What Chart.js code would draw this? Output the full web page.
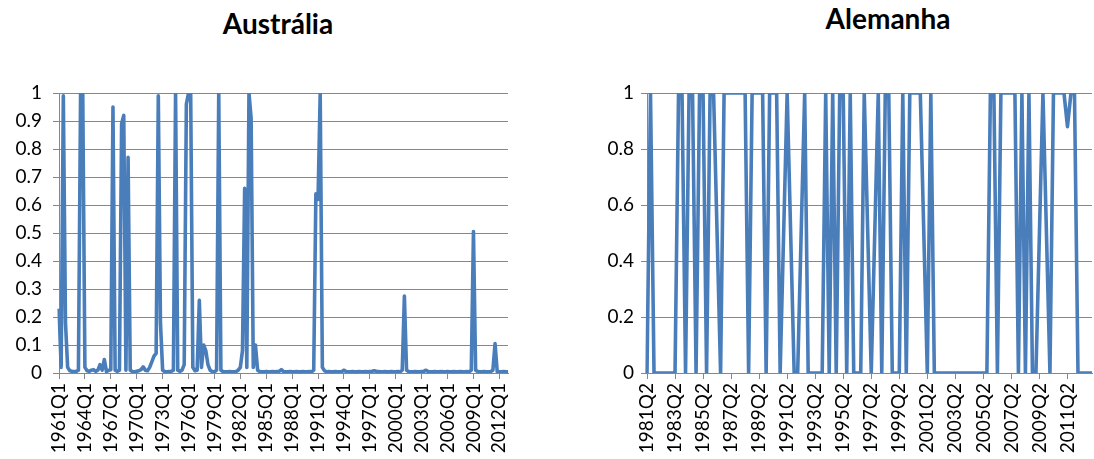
<!DOCTYPE html>
<html>
<head>
<meta charset="utf-8">
<script src="https://cdn.jsdelivr.net/npm/chart.js@4.4.1/dist/chart.umd.min.js"></script>
<style>
  html, body { margin: 0; padding: 0; background: #fff; overflow: hidden; }
  #wrap { position: relative; width: 1094px; height: 459px; }
  canvas { position: absolute; top: 0; }
  .title { position: absolute; font-family: Lato, sans-serif; font-weight: bold; font-size: 28px; color: #000; transform: translateX(-50%); white-space: nowrap; }
</style>
</head>
<body>
<div id="wrap">
  <div class="title" style="left:278px; top:6px;">Austrália</div>
  <div class="title" style="left:888px; top:1px;">Alemanha</div>
  <canvas id="ausChart" width="547" height="459" style="left:0"></canvas>
  <canvas id="gerChart" width="547" height="459" style="left:547px"></canvas>
</div>
<script>
// ========== DATA ==========
const ausStart = [1961, 1];
const gerStart = [1981, 2];

// Austrália, 1961Q1 .. 2013Q1
const ausValues = [
    0.23, 0.02, 0.99, 0.18, 0.02, 0.008, 0.006, 0.005, 0.006, 0.01,
    1, 1, 0.02, 0.008, 0.006, 0.01, 0.012, 0.006, 0.01, 0.03,
    0.01, 0.048, 0.005, 0.01, 0.012, 0.95, 0.01, 0.006, 0.01, 0.89,
    0.92, 0.01, 0.77, 0.01, 0.005, 0.004, 0.006, 0.008, 0.012, 0.022,
    0.01, 0.008, 0.02, 0.04, 0.06, 0.07, 0.99, 0.18, 0.01, 0.005,
    0.004, 0.005, 0.006, 0.01, 1, 0.01, 0.006, 0.01, 0.03, 0.96,
    1, 1, 0.02, 0.008, 0.01, 0.26, 0.02, 0.1, 0.08, 0.03,
    0.01, 0.005, 0.004, 0.01, 1, 0.01, 0.005, 0.004, 0.004, 0.005,
    0.004, 0.004, 0.005, 0.01, 0.02, 0.08, 0.66, 0.02, 1, 0.91,
    0.02, 0.1, 0.01, 0.005, 0.004, 0.004, 0.005, 0.004, 0.004, 0.005,
    0.004, 0.005, 0.006, 0.012, 0.005, 0.004, 0.004, 0.005, 0.004, 0.004,
    0.005, 0.004, 0.004, 0.005, 0.004, 0.004, 0.005, 0.004, 0.01, 0.64,
    0.62, 1, 0.02, 0.008, 0.004, 0.005, 0.004, 0.004, 0.005, 0.004,
    0.004, 0.005, 0.01, 0.005, 0.004, 0.004, 0.005, 0.004, 0.004, 0.005,
    0.004, 0.004, 0.005, 0.004, 0.005, 0.006, 0.008, 0.006, 0.005, 0.004,
    0.004, 0.005, 0.004, 0.004, 0.005, 0.004, 0.004, 0.005, 0.004, 0.01,
    0.275, 0.01, 0.005, 0.004, 0.004, 0.005, 0.004, 0.004, 0.005, 0.006,
    0.01, 0.005, 0.004, 0.004, 0.005, 0.004, 0.004, 0.005, 0.004, 0.004,
    0.005, 0.004, 0.004, 0.005, 0.004, 0.004, 0.005, 0.004, 0.004, 0.005,
    0.004, 0.01, 0.505, 0.01, 0.005, 0.004, 0.004, 0.005, 0.004, 0.004,
    0.005, 0.01, 0.105, 0.005, 0.004, 0.004, 0.005, 0.004, 0.004
];

// Alemanha, 1981Q2 .. 2013Q1 (null = missing quarter, line drawn across)
const gerValues = [
    0, 1, 0, 0, 0, 0, 0, 0, 0, 1,
    1, 0, 1, 1, 0, 1, 1, 0, 1, 1,
    null, 0, 1, 1, 1, 1, 1, 1, 1, 0,
    1, 1, 1, 1, 0, 1, 1, 1, 0, null,
    1, null, 0, 0, null, 1, 0, 0, 0, 0,
    0, 1, 0, 1, 0, 1, 1, 0, 1, 0,
    0, 0, 1, null, 0, null, 1, 0, 1, 1,
    0, 0, 0, 1, 0, 1, 1, 1, 1, null,
    0, 1, 0, 0, 0, 0, 0, 0, 0, 0,
    0, 0, 0, 0, 0, 0, 0, 0, 1, 1,
    0, 1, 1, 1, 1, 1, 0, 1, 0, 1,
    0, 0, null, 1, null, 0, 1, 1, 1, 1,
    0.88, 1, 1, 0, 0, 0, 0, 0
];

const ausLabelEvery = 12;
const gerLabelEvery = 8;
const ausYStep = 0.1;
const gerYStep = 0.2;

// ========== HELPERS ==========
function quarterLabels(start, count) {
    const out = [];
    let y = start[0], q = start[1];
    for (let i = 0; i < count; i++) {
        out.push(y + "Q" + q);
        q++;
        if (q > 4) { q = 1; y++; }
    }
    return out;
}

const gridGray = "#878787";
const lineBlue = "#4a7ebb";
const tickFont = { family: "Lato", size: 19 };

function makeChart(canvasId, labels, values, every, step, axisWidth, padRight, labelPad) {
    const ctx = document.getElementById(canvasId).getContext("2d");
    return new Chart(ctx, {
        type: "line",
        data: {
            labels: labels,
            datasets: [{
                data: values,
                borderColor: lineBlue,
                borderWidth: 3.6,
                borderJoinStyle: "round",
                tension: 0,
                pointRadius: 0,
                spanGaps: true,
                fill: false
            }]
        },
        options: {
            responsive: false,
            animation: false,
            layout: { padding: { top: 93, right: padRight, bottom: 0, left: 0 } },
            plugins: { legend: { display: false }, tooltip: { enabled: false } },
            scales: {
                x: {
                    offset: false,
                    grid: {
                        drawOnChartArea: false,
                        tickLength: 6,
                        tickColor: (c) => (c.index % every === 0 ? gridGray : "transparent")
                    },
                    border: { color: gridGray },
                    ticks: {
                        autoSkip: false,
                        maxRotation: 90,
                        minRotation: 90,
                        padding: 4,
                        color: "#000",
                        font: tickFont,
                        callback: function (val, idx) {
                            return idx % every === 0 ? this.getLabelForValue(val) : "";
                        }
                    },
                    afterFit: (s) => { s.height = 86; s.paddingLeft = 0; s.paddingRight = 0; }
                },
                y: {
                    min: 0,
                    max: 1,
                    grid: { color: gridGray, lineWidth: 1, tickLength: 6, tickColor: gridGray },
                    border: { color: gridGray },
                    ticks: {
                        stepSize: step,
                        padding: labelPad,
                        color: "#000",
                        font: tickFont,
                        callback: (v) => String(+v.toFixed(2))
                    },
                    afterFit: (s) => { s.width = axisWidth; }
                }
            }
        }
    });
}

// ========== CHARTS ==========
const ausChart = makeChart("ausChart", quarterLabels(ausStart, ausValues.length), ausValues,
    ausLabelEvery, ausYStep, 59, 39, 11);
const gerChart = makeChart("gerChart", quarterLabels(gerStart, gerValues.length), gerValues,
    gerLabelEvery, gerYStep, 100, 2, 7);
</script>
</body>
</html>
